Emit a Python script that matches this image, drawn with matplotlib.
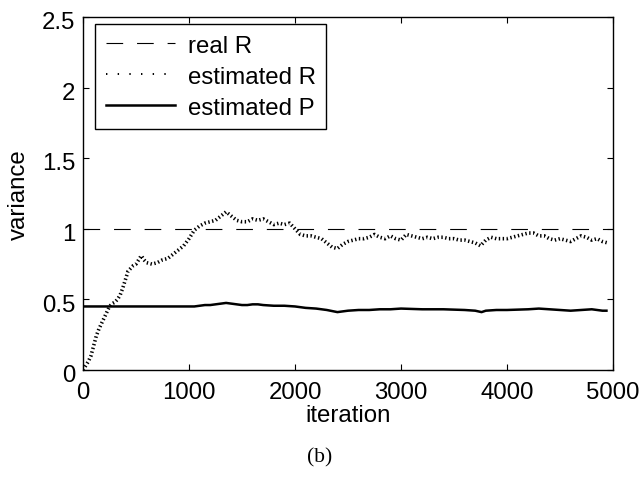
from __future__ import annotations

import matplotlib

matplotlib.use("Agg")
import matplotlib.pyplot as plt
from matplotlib.lines import Line2D
from matplotlib.transforms import ScaledTranslation

# iteration / variance readings for the estimated R curve
R_ITER = [
    0, 25, 50, 75, 100, 125, 150, 175, 200, 225, 250, 275, 300, 325, 350,
    375, 400, 425, 450, 475, 500, 525, 550, 575, 600, 650, 700, 750, 800,
    850, 900, 950, 1000, 1050, 1100, 1150, 1200, 1250, 1300, 1350, 1400,
    1450, 1500, 1550, 1600, 1650, 1700, 1750, 1800, 1850, 1900, 1950, 2000,
    2050, 2100, 2150, 2200, 2250, 2300, 2350, 2400, 2450, 2500, 2550, 2600,
    2650, 2700, 2750, 2800, 2850, 2900, 2950, 3000, 3050, 3100, 3150, 3200,
    3250, 3300, 3350, 3400, 3450, 3500, 3550, 3600, 3650, 3700, 3750, 3800,
    3850, 3900, 3950, 4000, 4050, 4100, 4150, 4200, 4250, 4300, 4350, 4400,
    4450, 4500, 4550, 4600, 4650, 4700, 4750, 4800, 4850, 4900, 4950,
]
R_EST = [
    0.00, 0.03, 0.06, 0.10, 0.17, 0.24, 0.29, 0.33, 0.37, 0.41, 0.45, 0.47,
    0.48, 0.50, 0.53, 0.58, 0.64, 0.70, 0.72, 0.74, 0.75, 0.78, 0.81, 0.78,
    0.76, 0.75, 0.76, 0.78, 0.79, 0.82, 0.85, 0.88, 0.93, 0.99, 1.02, 1.04,
    1.05, 1.06, 1.09, 1.12, 1.09, 1.06, 1.05, 1.05, 1.07, 1.06, 1.07, 1.05,
    1.03, 1.04, 1.03, 1.04, 1.00, 0.96, 0.95, 0.95, 0.94, 0.93, 0.90, 0.87,
    0.86, 0.89, 0.91, 0.92, 0.93, 0.93, 0.94, 0.96, 0.94, 0.93, 0.95, 0.93,
    0.92, 0.96, 0.95, 0.94, 0.93, 0.94, 0.93, 0.94, 0.94, 0.93, 0.93, 0.92,
    0.92, 0.91, 0.90, 0.88, 0.92, 0.94, 0.93, 0.93, 0.93, 0.94, 0.95, 0.96,
    0.97, 0.97, 0.95, 0.95, 0.93, 0.92, 0.93, 0.92, 0.91, 0.93, 0.95, 0.94,
    0.92, 0.93, 0.91, 0.90,
]

# estimated P curve
P_ITER = [
    0, 1050, 1100, 1150, 1200, 1250, 1300, 1350, 1400, 1450, 1500, 1550,
    1600, 1650, 1700, 1800, 1900, 2000, 2100, 2200, 2300, 2400, 2450, 2500,
    2600, 2700, 2800, 2900, 3000, 3200, 3400, 3600, 3700, 3760, 3800, 3900,
    4000, 4200, 4300, 4400, 4500, 4600, 4700, 4800, 4900, 4950,
]
P_EST = [
    0.45, 0.45, 0.455, 0.46, 0.46, 0.465, 0.47, 0.475, 0.47, 0.465, 0.46,
    0.46, 0.465, 0.465, 0.46, 0.455, 0.455, 0.45, 0.44, 0.435, 0.425, 0.41,
    0.415, 0.42, 0.425, 0.425, 0.43, 0.43, 0.435, 0.43, 0.43, 0.425, 0.42,
    0.41, 0.42, 0.425, 0.425, 0.43, 0.435, 0.43, 0.425, 0.42, 0.425, 0.43,
    0.42, 0.42,
]

REAL_R = 1.0
X_TICKS = [0, 1000, 2000, 3000, 4000, 5000]
Y_TICKS = [0, 0.5, 1, 1.5, 2, 2.5]
Y_TICK_LABELS = ["0", "0.5", "1", "1.5", "2", "2.5"]
LEGEND_LABELS = ["real R", "estimated R", "estimated P"]

FONT = 17.3


def main() -> None:
    plt.rcParams["font.family"] = ["Liberation Sans", "DejaVu Sans"]
    plt.rcParams["lines.scale_dashes"] = False

    fig = plt.figure(figsize=(6.44, 4.81), dpi=100)
    ax = fig.add_axes([83 / 644, 110 / 481, 530 / 644, 353 / 481])

    dash = (0, (12, 10))
    ax.axhline(REAL_R, color="black", lw=0.8, linestyle=dash)
    ax.plot(R_ITER, R_EST, color="black", lw=2.6, linestyle=(0, (1.0, 1.8)))
    ax.plot(P_ITER, P_EST, color="black", lw=1.8, solid_capstyle="butt")

    ax.set_xlim(0, 5000)
    ax.set_ylim(0, 2.5)
    ax.set_xticks(X_TICKS)
    ax.set_xticklabels([str(t) for t in X_TICKS])
    ax.set_yticks(Y_TICKS)
    ax.set_yticklabels(Y_TICK_LABELS)
    ax.tick_params(direction="in", length=4, width=0.8, top=True, right=True,
                   labelsize=FONT)
    ax.tick_params(axis="x", pad=8)
    ax.tick_params(axis="y", pad=5.5)
    # MATLAB puts y tick labels a touch below the tick
    shift = ScaledTranslation(0, -2 / 72, fig.dpi_scale_trans)
    for lab in ax.get_yticklabels():
        lab.set_transform(lab.get_transform() + shift)
    for sp in ax.spines.values():
        sp.set_linewidth(1.0)

    ax.set_xlabel("iteration", fontsize=FONT, labelpad=0.5)
    ax.set_ylabel("variance", fontsize=FONT, labelpad=9)

    handles = [
        Line2D([], [], color="black", lw=0.8, linestyle=dash),
        Line2D([], [], color="black", lw=1.4, linestyle=(0, (1.0, 7.4))),
        Line2D([], [], color="black", lw=1.8),
    ]
    leg = ax.legend(handles, LEGEND_LABELS, loc="upper left",
                    bbox_to_anchor=(95 / 644, 456 / 481),
                    bbox_transform=fig.transFigure, borderaxespad=0,
                    fontsize=FONT, frameon=True, fancybox=False,
                    handlelength=2.9, handletextpad=0.5, borderpad=0.45,
                    labelspacing=0.37)
    leg.get_frame().set_edgecolor("black")
    leg.get_frame().set_linewidth(1.0)
    leg.get_frame().set_alpha(1)

    fig.text(0.497, 23 / 481, "(b)", ha="center", va="center", fontsize=15.5,
             family=["Liberation Serif", "DejaVu Serif"])

    fig.savefig("out.png", dpi=100)
    plt.close(fig)


if __name__ == "__main__":
    main()
